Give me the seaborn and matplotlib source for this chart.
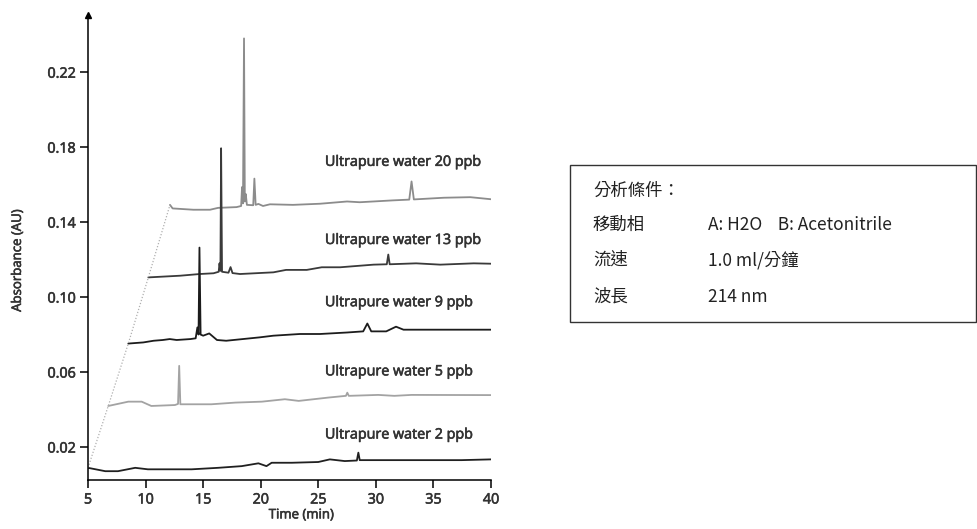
import matplotlib
matplotlib.use("Agg")
import matplotlib.pyplot as plt
import matplotlib.patheffects as pe
import seaborn as sns
import pandas as pd
from matplotlib.patches import Rectangle

# ---------------- data ----------------
t_20 = [12.12, 12.35, 14.15, 15.6, 16.3, 17.9, 18.30, 18.38, 18.46, 18.55, 18.62, 18.70, 18.80,
        19.35, 19.45, 19.56, 19.8, 20.2, 20.8, 22.8, 25.15, 27.5, 28.6, 31.5, 32.9, 33.1, 33.3,
        35.9, 38.2, 40.0]
a_20 = [0.1492, 0.1473, 0.1466, 0.1466, 0.1476, 0.1480, 0.1486, 0.1587, 0.1500, 0.2380, 0.1510,
        0.1550, 0.1492, 0.1490, 0.1632, 0.1492, 0.1497, 0.1486, 0.1495, 0.1492, 0.1498, 0.1510,
        0.1506, 0.1516, 0.1520, 0.1617, 0.1521, 0.1530, 0.1533, 0.1522]

t_13 = [10.24, 13.0, 14.7, 15.9, 16.35, 16.42, 16.50, 16.56, 16.64, 17.2, 17.38, 17.55, 18.2,
        21.1, 22.2, 24.0, 25.3, 26.9, 29.8, 30.95, 31.08, 31.2, 33.5, 35.6, 38.5, 40.0]
a_13 = [0.1105, 0.1114, 0.1123, 0.1127, 0.1135, 0.1180, 0.1140, 0.1794, 0.1135, 0.1130, 0.1160,
        0.1128, 0.1123, 0.1132, 0.1145, 0.1145, 0.1159, 0.1159, 0.1173, 0.1175, 0.1227, 0.1175,
        0.1180, 0.1173, 0.1180, 0.1178]

t_9 = [8.5, 9.8, 10.7, 11.5, 12.1, 12.7, 13.9, 14.35, 14.50, 14.60, 14.68, 14.78, 15.0, 15.53,
       16.2, 17.0, 19.9, 21.1, 23.4, 25.15, 27.5, 28.9, 29.26, 29.6, 30.9, 31.75, 32.4, 40.0]
a_9 = [0.0752, 0.0758, 0.0767, 0.0771, 0.0776, 0.0771, 0.0776, 0.0780, 0.0838, 0.0800, 0.1264,
       0.0800, 0.0794, 0.0806, 0.0771, 0.0767, 0.0785, 0.0794, 0.0803, 0.0803, 0.0811, 0.0817,
       0.0859, 0.0817, 0.0817, 0.0842, 0.0826, 0.0826]

t_5 = [6.76, 8.5, 9.66, 10.5, 12.55, 12.82, 12.92, 13.02, 13.4, 15.7, 17.8, 20.1, 22.1, 23.3,
       25.9, 27.4, 27.52, 27.65, 30.2, 31.6, 33.1, 40.0]
a_5 = [0.0419, 0.0442, 0.0442, 0.0419, 0.0424, 0.0430, 0.0633, 0.0428, 0.0428, 0.0428, 0.0437,
       0.0442, 0.0455, 0.0446, 0.0464, 0.0473, 0.0490, 0.0473, 0.0478, 0.0473, 0.0478, 0.0477]

t_2 = [5.0, 6.5, 7.6, 9.1, 10.2, 14.0, 16.3, 18.35, 19.8, 20.5, 20.95, 22.7, 25.0, 26.0, 27.3,
       28.35, 28.48, 28.6, 30.5, 37.45, 40.0]
a_2 = [0.0089, 0.0071, 0.0071, 0.0089, 0.0081, 0.0081, 0.0089, 0.0098, 0.0113, 0.0098, 0.0116,
       0.0116, 0.0120, 0.0134, 0.0125, 0.0128, 0.0170, 0.0130, 0.0130, 0.0130, 0.0134]

labels = ["Ultrapure water 20 ppb", "Ultrapure water 13 ppb", "Ultrapure water 9 ppb",
          "Ultrapure water 5 ppb", "Ultrapure water 2 ppb"]
label_y = [0.1719, 0.1302, 0.0970, 0.0601, 0.0264]
label_x = 25.58

x_ticks = [5, 10, 15, 20, 25, 30, 35, 40]
y_ticks = [0.02, 0.06, 0.10, 0.14, 0.18, 0.22]
y_tick_labels = ["0.02", "0.06", "0.10", "0.14", "0.18", "0.22"]

info_lines = [("分析條件：", ""),
              ("移動相", "A: H2O    B: Acetonitrile"),
              ("流速", "1.0 ml/分鐘"),
              ("波長", "214 nm")]

# ---------------- figure ----------------
sns.set_theme(style="white")
plt.rcParams["font.family"] = ["Open Sans", "DejaVu Sans"]

fig = plt.figure(figsize=(9.78, 5.29), dpi=100)
ax = fig.add_axes([88 / 978, 1 - 480 / 529, 403 / 978, 465 / 529])

traces = [(t_20, a_20, "#8c8c8c"), (t_13, a_13, "#3a3a3a"), (t_9, a_9, "#1c1c1c"),
          (t_5, a_5, "#a3a3a3"), (t_2, a_2, "#202020")]
for t, a, c in traces:
    df = pd.DataFrame({"Time (min)": t, "Absorbance (AU)": a})
    sns.lineplot(data=df, x="Time (min)", y="Absorbance (AU)", ax=ax, color=c,
                 linewidth=1.3, estimator=None, sort=False)

# dotted line joining the start of each trace
starts = pd.DataFrame({"x": [tr[0][0] for tr in traces][::-1],
                       "y": [tr[1][0] for tr in traces][::-1]})
sns.lineplot(data=starts, x="x", y="y", ax=ax, color="#b0b0b0", linewidth=0.9,
             linestyle=(0, (1, 1.5)), estimator=None, sort=False)

TXT = "#333333"
semi = [pe.withStroke(linewidth=0.45, foreground=TXT)]
for lab, ly in zip(labels, label_y):
    ax.text(label_x, ly, lab, fontsize=10.3, color=TXT, va="center", ha="left",
            path_effects=semi)

ax.set_xlim(5, 40)
ax.set_ylim(0.0024, 0.2505)
ax.set_xticks(x_ticks)
ax.set_yticks(y_ticks)
ax.set_yticklabels(y_tick_labels)
for s in ["top", "right"]:
    ax.spines[s].set_visible(False)
for s in ["left", "bottom"]:
    ax.spines[s].set_color("black")
    ax.spines[s].set_linewidth(1.1)
ax.tick_params(axis="both", direction="out", length=6, width=1.1, color="black",
               labelsize=10.3, labelcolor=TXT, left=True, bottom=True)
ax.tick_params(axis="x", pad=3)
ax.tick_params(axis="y", pad=3)
for lbl in ax.get_xticklabels() + ax.get_yticklabels():
    lbl.set_path_effects(semi)

ax.set_xlabel("Time (min)", fontsize=9.5, color=TXT, path_effects=semi)
ax.set_ylabel("Absorbance (AU)", fontsize=9.5, color=TXT, path_effects=semi)
ax.xaxis.set_label_coords(0.53, -0.061)
ax.yaxis.set_label_coords(-0.159, 0.473)

# arrow head on top of the y axis
ax.plot([0], [1.0], marker="^", markersize=4, color="black", transform=ax.transAxes,
        clip_on=False)

# ---------------- info box ----------------
fig.patches.append(Rectangle((570 / 978, 1 - 322 / 529), (976 - 570) / 978, (322 - 165) / 529,
                             transform=fig.transFigure, fill=False, edgecolor="#333333",
                             linewidth=1.0))
cjk = ["Noto Sans CJK TC", "DejaVu Sans"]
row_y = [191, 225, 260, 297]
for (head, val), yy in zip(info_lines, row_y):
    fig.text(593 / 978, 1 - yy / 529, head, family=cjk, fontsize=12.5, color="#222222",
             va="center", ha="left")
    if val:
        fig.text(708 / 978, 1 - yy / 529, val, family=cjk, fontsize=12.5, color="#222222",
                 va="center", ha="left")

fig.savefig("out.png", dpi=100)
